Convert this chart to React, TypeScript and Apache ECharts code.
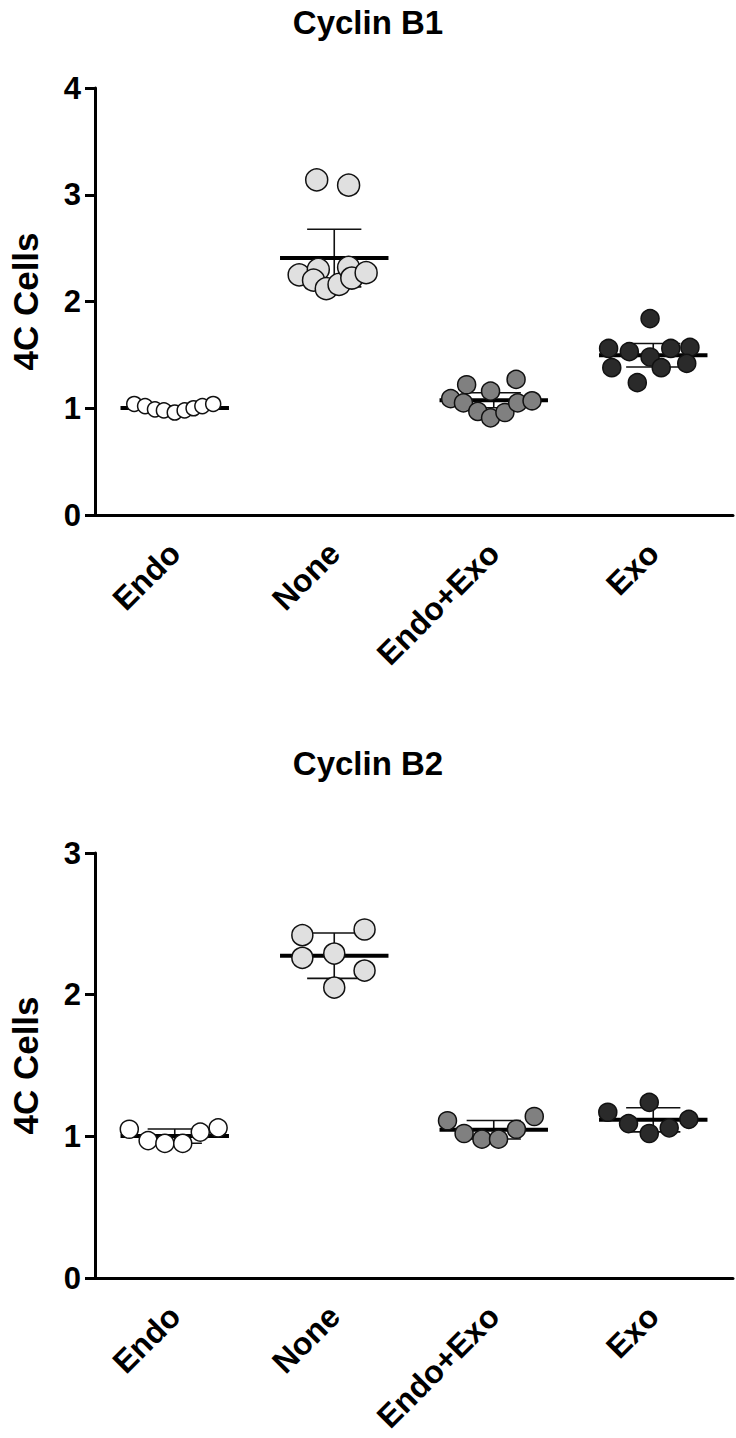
import React, { useEffect, useRef } from "react";
import * as echarts from "echarts";

const categories = ["Endo", "None", "Endo+Exo", "Exo"];
const yTicksB1 = [0, 1, 2, 3, 4];
const yTicksB2 = [0, 1, 2, 3];

// Cyclin B1 values (4C cells, normalised)
const b1Endo = [1.04, 1.02, 0.99, 0.98, 0.96, 0.98, 1.0, 1.02, 1.04];
const b1None = [3.14, 3.09, 2.25, 2.3, 2.2, 2.12, 2.16, 2.32, 2.22, 2.27];
const b1EndoExo = [1.09, 1.22, 1.05, 0.97, 1.16, 0.91, 0.96, 1.27, 1.05, 1.07];
const b1Exo = [1.56, 1.53, 1.84, 1.48, 1.56, 1.57, 1.38, 1.38, 1.42, 1.24];
const b1Err = [0.02, 0.27, 0.07, 0.11];

// horizontal scatter spread of each point, in category units
const b1EndoJit = [-0.254, -0.186, -0.124, -0.068, 0, 0.062, 0.118, 0.173, 0.241];
const b1NoneJit = [-0.11, 0.09, -0.22, -0.1, -0.13, -0.05, 0.03, 0.09, 0.11, 0.2];
const b1EndoExoJit = [-0.27, -0.17, -0.19, -0.1, -0.02, -0.02, 0.07, 0.14, 0.15, 0.24];
const b1ExoJit = [-0.28, -0.15, -0.02, -0.02, 0.11, 0.23, -0.26, 0.05, 0.21, -0.1];

// Cyclin B2 values
const b2Endo = [1.05, 0.97, 0.95, 0.95, 1.03, 1.06];
const b2None = [2.42, 2.46, 2.26, 2.29, 2.17, 2.05];
const b2EndoExo = [1.11, 1.02, 0.98, 0.98, 1.05, 1.14];
const b2Exo = [1.17, 1.09, 1.24, 1.02, 1.06, 1.12];
const b2Err = [0.05, 0.16, 0.065, 0.085];

const b2EndoJit = [-0.285, -0.167, -0.062, 0.05, 0.16, 0.272];
const b2NoneJit = [-0.2, 0.19, -0.2, 0, 0.19, 0];
const b2EndoExoJit = [-0.29, -0.186, -0.074, 0.03, 0.142, 0.254];
const b2ExoJit = [-0.285, -0.155, -0.025, -0.025, 0.1, 0.223];

const fills = ["#ffffff", "#e0e0e0", "#808080", "#2a2a2a"];
const FONT = "'Liberation Sans', Arial, Helvetica, sans-serif";

const mean = (a: number[]) => a.reduce((s, v) => s + v, 0) / a.length;

export default function App() {
  const ref = useRef<HTMLDivElement>(null);

  useEffect(() => {
    if (!ref.current) return;
    const chart = echarts.init(ref.current, undefined, { renderer: "svg" });

    const groupsB1 = [b1Endo, b1None, b1EndoExo, b1Exo];
    const jitB1 = [b1EndoJit, b1NoneJit, b1EndoExoJit, b1ExoJit];
    const groupsB2 = [b2Endo, b2None, b2EndoExo, b2Exo];
    const jitB2 = [b2EndoJit, b2NoneJit, b2EndoExoJit, b2ExoJit];
    const sizesB1 = [15, 22, 18, 18];
    const sizesB2 = [18, 21, 18, 18];

    const summarySeries = (groups: number[][], errs: number[], xIdx: number, yIdx: number) => ({
      type: "custom",
      xAxisIndex: xIdx,
      yAxisIndex: yIdx,
      silent: true,
      z: 1,
      encode: { x: 0, y: 1 },
      data: groups.map((g, i) => [i, mean(g), errs[i]]),
      renderItem: (params: any, api: any) => {
        const i = api.value(0);
        const m = api.value(1);
        const e = api.value(2);
        const c = api.coord([i, m]);
        const top = api.coord([i, m + e]);
        const bot = api.coord([i, m - e]);
        const unit = api.size([1, 0])[0];
        const hw = unit * 0.34;
        const cw = unit * 0.17;
        const thin = { stroke: "#111", lineWidth: 1.6 };
        return {
          type: "group",
          children: [
            { type: "line", shape: { x1: c[0], y1: top[1], x2: c[0], y2: bot[1] }, style: thin },
            { type: "line", shape: { x1: c[0] - cw, y1: top[1], x2: c[0] + cw, y2: top[1] }, style: thin },
            { type: "line", shape: { x1: c[0] - cw, y1: bot[1], x2: c[0] + cw, y2: bot[1] }, style: thin },
            {
              type: "line",
              shape: { x1: c[0] - hw, y1: c[1], x2: c[0] + hw, y2: c[1] },
              style: { stroke: "#000", lineWidth: 4 },
            },
          ],
        };
      },
    });

    const scatterSeries = (groups: number[][], jits: number[][], sizes: number[], xIdx: number, yIdx: number) =>
      groups.map((g, i) => ({
        type: "scatter",
        xAxisIndex: xIdx,
        yAxisIndex: yIdx,
        silent: true,
        z: 3,
        symbol: "circle",
        symbolSize: sizes[i],
        itemStyle: { color: fills[i], borderColor: "#111", borderWidth: 1.5, opacity: 1 },
        data: g.map((v, k) => [i + jits[i][k], v]),
      }));

    const catAxis = (gridIndex: number) => ({
      type: "category",
      gridIndex,
      data: categories,
      boundaryGap: true,
      axisLine: { onZero: false, lineStyle: { color: "#000", width: 3 } },
      axisTick: { alignWithLabel: true, length: 13, lineStyle: { color: "#000", width: 3 } },
      axisLabel: {
        rotate: 45,
        margin: 33,
        color: "#000",
        fontSize: 32,
        fontWeight: "bold",
        fontFamily: FONT,
        interval: 0,
      },
      splitLine: { show: false },
    });
    const valXAxis = (gridIndex: number) => ({
      type: "value",
      gridIndex,
      min: -0.5,
      max: 3.5,
      show: false,
    });
    const yAxis = (gridIndex: number, max: number) => ({
      type: "value",
      gridIndex,
      min: 0,
      max,
      interval: 1,
      name: "4C Cells",
      nameLocation: "middle",
      nameRotate: 90,
      nameGap: 52,
      nameTextStyle: { color: "#000", fontSize: 35, fontWeight: "bold", fontFamily: FONT },
      axisLine: { show: true, onZero: false, lineStyle: { color: "#000", width: 3 } },
      axisTick: { show: true, length: 10, lineStyle: { color: "#000", width: 3 } },
      axisLabel: { color: "#000", fontSize: 31, fontWeight: "bold", fontFamily: FONT, margin: 14 },
      splitLine: { show: false },
    });

    chart.setOption({
      animation: false,
      backgroundColor: "#ffffff",
      title: [
        {
          text: "Cyclin B1",
          left: "center",
          top: 1,
          textStyle: { fontSize: 33, fontWeight: "bold", color: "#000", fontFamily: FONT },
        },
        {
          text: "Cyclin B2",
          left: "center",
          top: 742,
          textStyle: { fontSize: 33, fontWeight: "bold", color: "#000", fontFamily: FONT },
        },
      ],
      grid: [
        { left: 87, top: 88, width: 646, height: 427 },
        { left: 87, top: 853, width: 646, height: 425 },
      ],
      xAxis: [catAxis(0), valXAxis(0), catAxis(1), valXAxis(1)],
      yAxis: [yAxis(0, yTicksB1[yTicksB1.length - 1]), yAxis(1, yTicksB2[yTicksB2.length - 1])],
      series: [
        summarySeries(groupsB1, b1Err, 1, 0),
        ...scatterSeries(groupsB1, jitB1, sizesB1, 1, 0),
        summarySeries(groupsB2, b2Err, 3, 1),
        ...scatterSeries(groupsB2, jitB2, sizesB2, 3, 1),
      ],
    });

    return () => chart.dispose();
  }, []);

  return (
    <div
      ref={ref}
      style={{ position: "fixed", left: 0, top: 0, width: 736, height: 1438, background: "#fff" }}
    />
  );
}
